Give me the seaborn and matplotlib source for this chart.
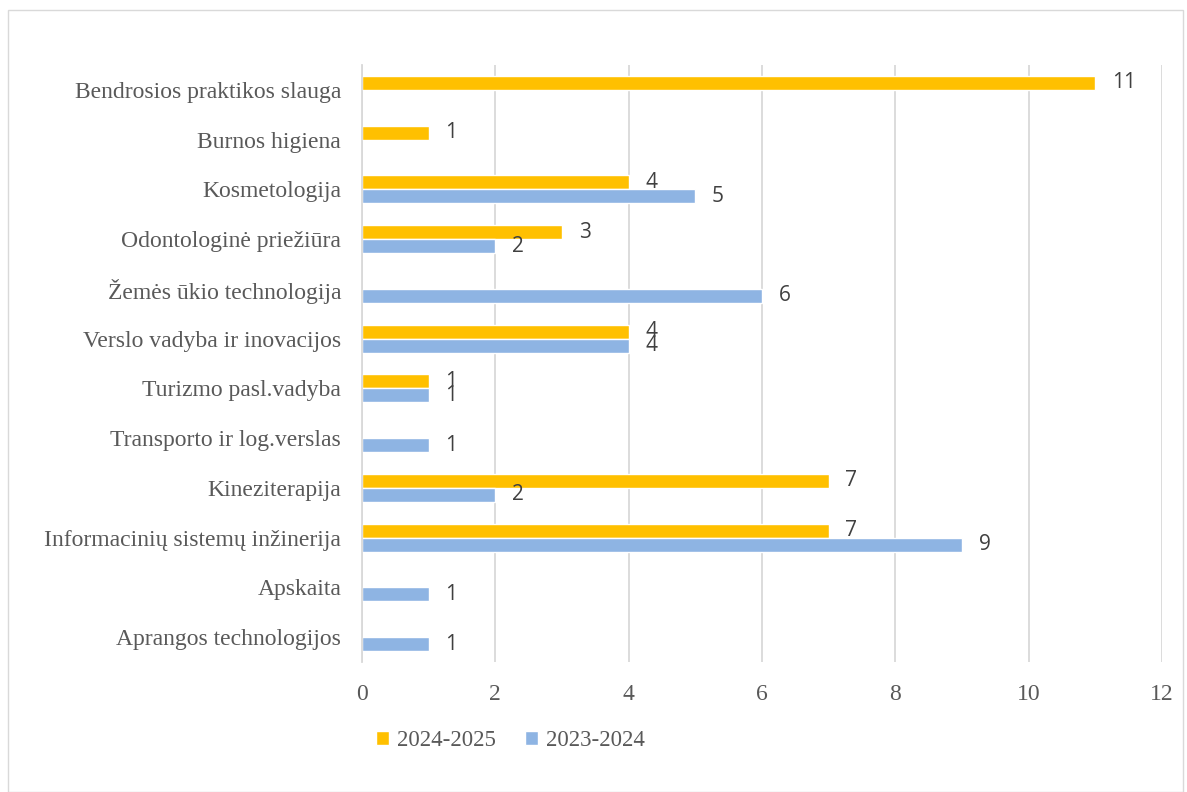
import numpy as np
import pandas as pd
import matplotlib.pyplot as plt
import seaborn as sns
from matplotlib.patches import Patch, Rectangle

categories = [
    "Bendrosios praktikos slauga",
    "Burnos higiena",
    "Kosmetologija",
    "Odontologinė priežiūra",
    "Žemės ūkio technologija",
    "Verslo vadyba ir inovacijos",
    "Turizmo pasl.vadyba",
    "Transporto ir log.verslas",
    "Kineziterapija",
    "Informacinių sistemų inžinerija",
    "Apskaita",
    "Aprangos technologijos",
]
series_names = ["2024-2025", "2023-2024"]
values_2024_2025 = [11, 1, 4, 3, np.nan, 4, 1, np.nan, 7, 7, np.nan, np.nan]
values_2023_2024 = [np.nan, np.nan, 5, 2, 6, 4, 1, 1, 2, 9, 1, 1]
colors = ["#FFC000", "#8EB4E3"]
x_ticks = [0, 2, 4, 6, 8, 10, 12]

df = pd.DataFrame({
    "program": categories * 2,
    "year": [series_names[0]] * len(categories) + [series_names[1]] * len(categories),
    "count": values_2024_2025 + values_2023_2024,
})

sns.set_style("white")
plt.rcParams["font.family"] = ["Liberation Serif", "DejaVu Serif"]

fig = plt.figure(figsize=(11.87, 7.92), dpi=100)
ax = fig.add_axes([0.305, 0.164, 0.674, 0.754])

sns.barplot(data=df, x="count", y="program", hue="year", order=categories,
            hue_order=series_names, palette=colors, orient="h", width=0.56,
            saturation=1, ax=ax, legend=False)

# data labels
for cont in ax.containers:
    labels = []
    for bar in cont:
        w = bar.get_width()
        labels.append(f"{w:g}" if np.isfinite(w) and w > 0 else "")
    ax.bar_label(cont, labels=labels, padding=12, fontsize=15,
                 color="#404040", family=["Open Sans", "DejaVu Sans"])

ax.set_xlim(0, 12)
ax.set_xticks(x_ticks)
ax.set_xlabel("")
ax.set_ylabel("")
ax.grid(axis="x", color="#D9D9D9", linewidth=1.3)
ax.set_axisbelow(True)
for s in ["top", "right", "bottom"]:
    ax.spines[s].set_visible(False)
ax.spines["left"].set_color("#D9D9D9")
ax.spines["left"].set_linewidth(1.3)
ax.tick_params(axis="both", length=0, labelsize=17, colors="#595959")
ax.tick_params(axis="x", pad=16)
ax.tick_params(axis="y", pad=15)

handles = [Patch(facecolor=c, label=n) for c, n in zip(colors, series_names)]
fig.legend(handles=handles, loc="center", bbox_to_anchor=(0.43, 0.065), ncol=2,
           frameon=False, fontsize=16.5, handlelength=0.55, handleheight=0.55,
           handletextpad=0.35, columnspacing=1.3, labelcolor="#595959")

fig.patches.append(Rectangle((0.007, 0.0), 0.99, 0.987, transform=fig.transFigure,
                             fill=False, edgecolor="#D9D9D9", linewidth=1))

fig.savefig("out.png", dpi=100)
